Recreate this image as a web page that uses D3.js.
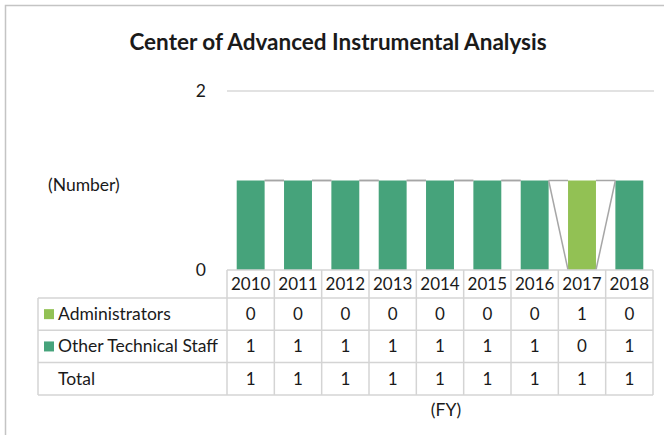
<!DOCTYPE html>
<html>
<head>
<meta charset="utf-8">
<script src="https://cdn.jsdelivr.net/npm/d3@7"></script>
<style>
  html, body { margin: 0; padding: 0; background: #fff; }
  svg { display: block; font-family: Lato, "Noto Sans", sans-serif; }
</style>
</head>
<body>
<svg id="chart" width="664" height="435"></svg>
<script>
// Fiscal years and staff counts per category
const years = ["2010", "2011", "2012", "2013", "2014", "2015", "2016", "2017", "2018"];
const administrators = [0, 0, 0, 0, 0, 0, 0, 1, 0];
const otherTechnicalStaff = [1, 1, 1, 1, 1, 1, 1, 0, 1];
const yTicks = [0, 2];

const seriesNames = ["Other Technical Staff", "Administrators"];
const colors = { "Administrators": "#92c154", "Other Technical Staff": "#46a37b" };

const totals = years.map((_, i) => administrators[i] + otherTechnicalStaff[i]);
const rows = [
  { name: "Administrators", values: administrators, key: true },
  { name: "Other Technical Staff", values: otherTechnicalStaff, key: true },
  { name: "Total", values: totals, key: false }
];

const FS = 17.5;
const ink = "#1a1a1a";
const svg = d3.select("#chart");

// outer chart frame
svg.append("rect")
  .attr("x", 5.5).attr("y", 5.5).attr("width", 700).attr("height", 500)
  .attr("fill", "none").attr("stroke", "#c4c4c4").attr("stroke-width", 1.5);

const plot = { left: 227, right: 653, top: 91, bottom: 270 };

const col = d3.scaleBand().domain(years).range([plot.left, plot.right]);
const x = d3.scaleBand().domain(years).range([plot.left, plot.right])
  .paddingInner(0.41).paddingOuter(0.205);
const y = d3.scaleLinear().domain([0, 2]).range([plot.bottom, plot.top]);

// title
svg.append("text")
  .attr("x", 338).attr("y", 50)
  .attr("text-anchor", "middle")
  .attr("font-size", 22.5).attr("font-weight", "bold").attr("fill", ink)
  .text("Center of Advanced Instrumental Analysis");

// gridlines (skip the baseline, the table border sits there)
svg.append("g").selectAll("line")
  .data(yTicks.filter(d => d !== 0))
  .join("line")
  .attr("x1", plot.left).attr("x2", plot.right + 1)
  .attr("y1", d => y(d)).attr("y2", d => y(d))
  .attr("stroke", "#d9d9d9").attr("stroke-width", 1.5);

// y tick labels
const yAxis = d3.axisLeft(y).tickValues(yTicks).tickFormat(d3.format("d"))
  .tickSize(0).tickPadding(0);
const gy = svg.append("g").attr("transform", `translate(${plot.left - 21},0)`).call(yAxis);
gy.select(".domain").remove();
gy.selectAll("text").attr("font-size", FS).attr("fill", ink)
  .attr("font-family", "Lato, 'Noto Sans', sans-serif");

// axis titles
svg.append("text").attr("x", 48).attr("y", 191)
  .attr("font-size", FS).attr("fill", ink).text("(Number)");
svg.append("text").attr("x", 446).attr("y", 416).attr("text-anchor", "middle")
  .attr("font-size", FS).attr("fill", ink).text("(FY)");

// stacked bars: Other Technical Staff at the bottom, Administrators on top
const stackData = years.map((yr, i) => ({
  year: yr,
  "Administrators": administrators[i],
  "Other Technical Staff": otherTechnicalStaff[i]
}));
const stacked = d3.stack().keys(seriesNames)(stackData);

const layers = svg.append("g").selectAll("g")
  .data(stacked).join("g")
  .attr("fill", d => colors[d.key]);
layers.selectAll("rect")
  .data(d => d)
  .join("rect")
  .attr("x", d => x(d.data.year))
  .attr("width", x.bandwidth())
  .attr("y", d => y(d[1]))
  .attr("height", d => y(d[0]) - y(d[1]));

// series lines joining the top of each segment to the next bar
const seriesLines = [];
stacked.forEach(layer => {
  for (let i = 0; i < layer.length - 1; i++) {
    seriesLines.push({
      x1: x(years[i]) + x.bandwidth(), y1: y(layer[i][1]),
      x2: x(years[i + 1]), y2: y(layer[i + 1][1])
    });
  }
});
svg.append("g").selectAll("line")
  .data(seriesLines).join("line")
  .attr("x1", d => d.x1).attr("y1", d => d.y1)
  .attr("x2", d => d.x2).attr("y2", d => d.y2)
  .attr("stroke", "#a6a6a6").attr("stroke-width", 1.5);

// data table
const tableLeft = 38;
const headerTop = plot.bottom, headerBottom = 298;
const rowH = 32.3;
const tableBottom = headerBottom + rowH * rows.length;
const lineColor = "#d4d4d4";
const table = svg.append("g").attr("stroke", lineColor).attr("stroke-width", 1.5);

// header row with years
table.append("line").attr("x1", plot.left).attr("x2", plot.right)
  .attr("y1", headerTop).attr("y2", headerTop);
table.selectAll(".vhead")
  .data(years.concat(["end"])).join("line")
  .attr("x1", (d, i) => plot.left + i * col.step())
  .attr("x2", (d, i) => plot.left + i * col.step())
  .attr("y1", headerTop).attr("y2", tableBottom);
// horizontal row lines
const hLines = d3.range(rows.length + 1).map(i => headerBottom + i * rowH);
table.selectAll(".hrow")
  .data(hLines).join("line")
  .attr("x1", tableLeft).attr("x2", plot.right)
  .attr("y1", d => d).attr("y2", d => d);
table.append("line").attr("x1", tableLeft).attr("x2", tableLeft)
  .attr("y1", headerBottom).attr("y2", tableBottom);

svg.append("g").selectAll("text")
  .data(years).join("text")
  .attr("x", d => col(d) + col.bandwidth() / 2)
  .attr("y", (headerTop + headerBottom) / 2 + 6)
  .attr("text-anchor", "middle")
  .attr("font-size", 17).attr("fill", ink)
  .text(d => d);

const rowG = svg.append("g").selectAll("g")
  .data(rows).join("g")
  .attr("transform", (d, i) => `translate(0,${headerBottom + i * rowH + rowH / 2})`);
rowG.filter(d => d.key).append("rect")
  .attr("x", 44).attr("y", -5).attr("width", 10).attr("height", 10)
  .attr("fill", d => colors[d.name]);
rowG.append("text")
  .attr("x", 58).attr("y", 6)
  .attr("font-size", FS).attr("fill", ink)
  .text(d => d.name);
rowG.selectAll(".val")
  .data(d => d.values).join("text")
  .attr("x", (v, i) => col(years[i]) + col.bandwidth() / 2)
  .attr("y", 6)
  .attr("text-anchor", "middle")
  .attr("font-size", 17).attr("fill", ink)
  .text(v => v);
</script>
</body>
</html>
